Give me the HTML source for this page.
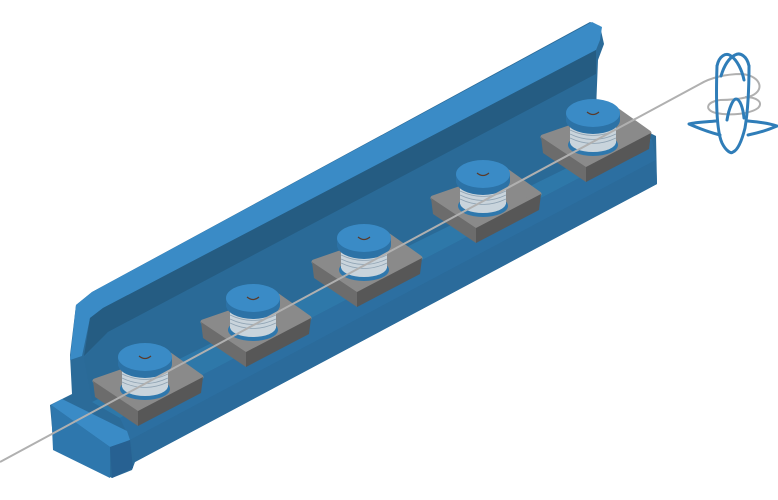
<!DOCTYPE html>
<html><head><meta charset="utf-8"><style>html,body{margin:0;padding:0;background:#fff}svg{display:block}</style></head>
<body>
<svg width="778" height="500" viewBox="0 0 778 500" xmlns="http://www.w3.org/2000/svg">
<defs>
<g id="spool">
  <polygon points="-50,24 25,-2 56,20 -7,52" fill="#8a8a8a" stroke="#8a8a8a" stroke-width="5" stroke-linejoin="round"/>
  <polygon points="-52,24 -7,54 -7,69 -50,40" fill="#6c6c6c"/>
  <polygon points="-7,54 58,20 56,36 -7,69" fill="#575757"/>
  <ellipse cx="0" cy="32" rx="25" ry="11" fill="#2f78ad"/>
  <rect x="-23" y="8" width="46" height="22" fill="#c9d4dc"/>
  <ellipse cx="0" cy="29" rx="23" ry="10" fill="#c9d4dc"/>
  <path d="M-23,13 q23,11 46,0 M-23,17 q23,11 46,0 M-23,21 q23,11 46,0 M-23,25 q23,11 46,0" stroke="#8fa3b3" stroke-width="0.8" fill="none"/>
  <ellipse cx="0" cy="7" rx="27" ry="14" fill="#2c72a6"/>
  <rect x="-27" y="0" width="54" height="7" fill="#2c72a6"/>
  <ellipse cx="0" cy="0" rx="27" ry="14" fill="#3a8bc6"/>
  <path d="M-6,-1 q6,5 12,0" stroke="#5a3a2a" stroke-width="1.2" fill="none"/>
</g>
</defs>
<!-- base silhouette -->
<polygon points="50,405 72,394 70,355 76,305 92,292 590,22 600,26 604,44 598,60 596,110 640,128 656,136 657,184 135,462 132,470 112,478 54,450" fill="#2b6b99"/>
<!-- back wall top lip -->
<polygon points="70,360 76,305 92,292 592,22 602,27 600,40 596,50 103,308 90,318 82,356" fill="#3a8bc6"/>
<!-- inner dark wall face -->
<polygon points="84,356 90,318 103,308 596,50 596,74 108,332" fill="#255c82"/>
<!-- floor -->
<polygon points="84,358 108,332 596,74 597,120 640,130 140,390 92,400" fill="#2a6a97"/>
<!-- channel strip -->
<polygon points="92,402 640,132 652,140 120,418" fill="#2e78a9"/>
<!-- front lip -->
<polygon points="120,418 652,140 656,160 130,440" fill="#2c6fa1"/>
<polygon points="130,440 656,160 657,184 135,462" fill="#2b6b9b"/>
<!-- end block -->
<polygon points="51,405 62,399 127,431 130,440 110,447" fill="#3a8bc6"/>
<polygon points="51,405 110,447 110,478 53,450" fill="#2e77ad"/>
<polygon points="110,447 130,440 133,468 112,478" fill="#276192"/>
<!-- spools -->
<use href="#spool" x="145" y="357"/>
<use href="#spool" x="253" y="298"/>
<use href="#spool" x="364" y="238"/>
<use href="#spool" x="483" y="174"/>
<use href="#spool" x="593" y="113"/>
<!-- wire -->
<path d="M0,462 L700,84 C710,78 725,74 742,74 C762,76 766,92 748,97 C735,100 726,100 720,100" stroke="#b0b0b0" stroke-width="2" fill="none"/>
<path d="M720,100 C706,102 704,110 716,113 C730,116 750,114 758,108 C764,102 756,97 745,97" stroke="#b0b0b0" stroke-width="2" fill="none"/>
<!-- icon -->
<g stroke="#2f7db8" stroke-width="3" fill="none" stroke-linejoin="round" stroke-linecap="round">
  <path d="M717,66 C716,95 716,130 722,143 C726,151 731,154 733,152 C738,150 742,140 745,128 C748,110 749,85 749,66"/>
  <path d="M717,66 C719,56 726,52 731,56 C737,60 742,70 744,80"/>
  <path d="M749,66 C747,56 740,52 735,55 C729,58 724,66 721,76"/>
  <path d="M727,120 C729,108 733,99 736,99 C740,99 743,108 744,118"/>
  <path d="M716,121 C706,122 696,122 689,124 C698,128 708,132 720,135"/>
  <path d="M748,121 C758,122 768,123 777,126 C768,130 758,133 748,135"/>
</g>
</svg>
</body></html>
